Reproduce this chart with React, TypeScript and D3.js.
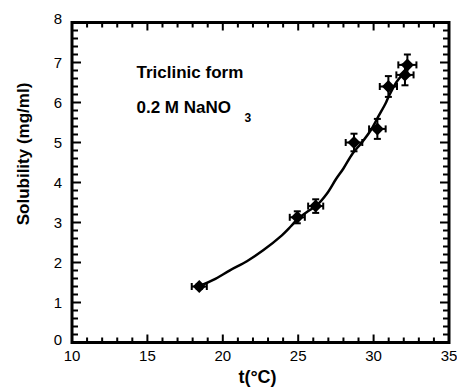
import React from "react";
import * as d3 from "d3";

const pointT = [18.44, 24.94, 26.16, 28.7, 30.25, 30.98, 32.08, 32.24];
const pointS = [1.4, 3.13, 3.41, 5.0, 5.34, 6.4, 6.69, 6.94];
const errT = [0.5, 0.5, 0.5, 0.55, 0.55, 0.57, 0.57, 0.6];
const errS = [0.06, 0.15, 0.17, 0.22, 0.25, 0.26, 0.26, 0.26];

const curveT = [18.7, 19.4, 20.5, 21.6, 22.7, 23.8, 24.5, 25.0, 25.6, 26.2, 26.9, 27.5, 28.0, 28.6, 29.2, 29.8, 30.3, 30.8, 31.0, 31.5, 32.0, 32.4];
const curveS = [1.45, 1.57, 1.81, 2.03, 2.31, 2.64, 2.9, 3.1, 3.27, 3.42, 3.72, 4.08, 4.35, 4.72, 4.99, 5.3, 5.64, 5.98, 6.15, 6.5, 6.75, 7.0];

const xTickLabels = ["10", "15", "20", "25", "30", "35"];
const yTickLabels = ["0", "1", "2", "3", "4", "5", "6", "7", "8"];

const W = 457, H = 388;
const L = 72, R = 449, T = 22.5, B = 342.5;
const FONT = "'Liberation Sans', Arial, Helvetica, sans-serif";

export default function App() {
  const x = d3.scaleLinear().domain([10, 35]).range([L, R]);
  const y = d3.scaleLinear().domain([0, 8]).range([B, T]);
  const line = d3.line<number>().x((_, i) => x(curveT[i])).y((_, i) => y(curveS[i])).curve(d3.curveCatmullRom);

  const xMinor = d3.range(11, 35, 1).filter((v) => v % 5 !== 0);
  const xMajor = xTickLabels.map(Number);
  const yMinor = d3.range(0.2, 8, 0.2).filter((v) => Math.abs(v - Math.round(v)) > 0.01);
  const yMajor = yTickLabels.map(Number);

  const maj = 8, min = 5;
  return (
    <svg width={W} height={H} style={{ position: "absolute", left: 0, top: 0, background: "#fff" }} fontFamily={FONT}>
      <g stroke="#000" strokeWidth={2}>
        {xMinor.map((v) => (
          <g key={"xm" + v}>
            <line x1={x(v)} x2={x(v)} y1={B} y2={B - min} />
            <line x1={x(v)} x2={x(v)} y1={T} y2={T + min} />
          </g>
        ))}
        {xMajor.map((v) => (
          <g key={"xM" + v}>
            <line x1={x(v)} x2={x(v)} y1={B} y2={B - maj} />
            <line x1={x(v)} x2={x(v)} y1={T} y2={T + maj} />
          </g>
        ))}
        {yMinor.map((v) => (
          <g key={"ym" + v}>
            <line x1={L} x2={L + min + 1} y1={y(v)} y2={y(v)} />
            <line x1={R} x2={R - min - 1} y1={y(v)} y2={y(v)} />
          </g>
        ))}
        {yMajor.map((v) => (
          <g key={"yM" + v}>
            <line x1={L} x2={L + maj + 1} y1={y(v)} y2={y(v)} />
            <line x1={R} x2={R - maj - 1} y1={y(v)} y2={y(v)} />
          </g>
        ))}
      </g>
      <rect x={L} y={T} width={R - L} height={B - T} fill="none" stroke="#000" strokeWidth={3} />
      <g fontSize={15} fill="#000">
        {xTickLabels.map((s) => (
          <text key={"xl" + s} x={x(+s)} y={361} textAnchor="middle">{s}</text>
        ))}
        {yTickLabels.map((s) => (
          <text key={"yl" + s} x={62} y={y(+s) - (+s === 0 ? 2.5 : +s === 8 ? 4 : 0)} dy="0.36em" textAnchor="end">{s}</text>
        ))}
      </g>
      <path d={line(curveT) || ""} fill="none" stroke="#000" strokeWidth={2.5} />
      <g stroke="#000" strokeWidth={2}>
        {pointT.map((t, i) => {
          const cx = x(t), cy = y(pointS[i]);
          const x0 = x(t - errT[i]), x1 = x(t + errT[i]);
          const y0 = y(pointS[i] - errS[i]), y1 = y(pointS[i] + errS[i]);
          return (
            <g key={"p" + i}>
              <line x1={x0} x2={x1} y1={cy} y2={cy} />
              <line x1={x0} x2={x0} y1={cy - 3.5} y2={cy + 3.5} />
              <line x1={x1} x2={x1} y1={cy - 3.5} y2={cy + 3.5} />
              <line x1={cx} x2={cx} y1={y0} y2={y1} />
              <line x1={cx - 3.5} x2={cx + 3.5} y1={y0} y2={y0} />
              <line x1={cx - 3.5} x2={cx + 3.5} y1={y1} y2={y1} />
              <path d={`M${cx},${cy - 6.5}L${cx + 6.5},${cy}L${cx},${cy + 6.5}L${cx - 6.5},${cy}Z`} fill="#000" stroke="none" />
            </g>
          );
        })}
      </g>
      <g fontWeight="bold" fill="#000">
        <text x={136.5} y={77.7} fontSize={17}>Triclinic form</text>
        <text x={136.5} y={113} fontSize={17}>0.2 M NaNO</text>
        <text x={244.5} y={121.5} fontSize={12}>3</text>
        <text x={257.5} y={383} fontSize={18} textAnchor="middle">t(°C)</text>
        <text transform={`translate(29,154) rotate(-90)`} fontSize={17} textAnchor="middle">Solubility (mg/ml)</text>
      </g>
    </svg>
  );
}
